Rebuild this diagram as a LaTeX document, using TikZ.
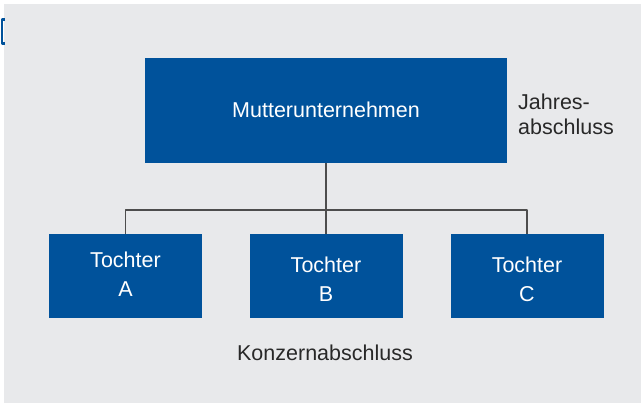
\documentclass[tikz,border=0pt]{standalone}
\usepackage{fontspec}
\setmainfont{Liberation Sans}
\usepackage{tikz}
\usepackage{xcolor}
\definecolor{konzblue}{RGB}{0,82,155}
\definecolor{panelgray}{RGB}{232,233,235}
\definecolor{linegray}{RGB}{77,77,77}
\definecolor{inkdark}{RGB}{40,40,40}

\begin{document}
\begin{tikzpicture}[x=1pt,y=-1pt,line join=round,
  unitbox/.style={fill=konzblue,inner sep=0pt},
  boxtext/.style={text=white,inner sep=0pt,align=center,
    font=\fontsize{21.5}{29}\selectfont},
  plain/.style={text=inkdark,inner sep=0pt,font=\fontsize{21.5}{25}\selectfont}]
  \useasboundingbox (0,0) rectangle (641,403);
  \fill[white] (0,0) rectangle (641,403);
  \fill[panelgray] (4,4) rectangle (641,403);
  % small bracket at the left edge
  \draw[konzblue,line width=2.2pt] (5,19.5) -- (2,19.5) -- (2,43.5) -- (5,43.5);
  % boxes
  \node[unitbox,minimum width=362pt,minimum height=105pt] (mu) at (326,110.5) {};
  \node[unitbox,minimum width=153pt,minimum height=84pt] (ta) at (125.5,276) {};
  \node[unitbox,minimum width=153pt,minimum height=84pt] (tb) at (326,276) {};
  \node[unitbox,minimum width=153pt,minimum height=84pt] (tc) at (527,276) {};
  \node[boxtext] (mut) at (326,110) {Mutterunternehmen};
  \node[boxtext] (tat) at (125.5,274.5) {Tochter\\A};
  \node[boxtext] (tbt) at (326,279) {Tochter\\B};
  \node[boxtext] (tct) at (527,279) {Tochter\\C};
  \coordinate (bar) at (326,210);
  % connectors
  \draw[linegray,line width=1.4pt] (mu.south) -- (tb.north);
  \draw[linegray,line width=1.4pt] (ta.north) |- (bar) -| (tc.north);
  % labels
  \node[plain,anchor=west,align=left] (ja) at (518,114.5) {Jahres-\\abschluss};
  \node[plain] (ka) at (325,353) {Konzernabschluss};
\end{tikzpicture}
\end{document}
